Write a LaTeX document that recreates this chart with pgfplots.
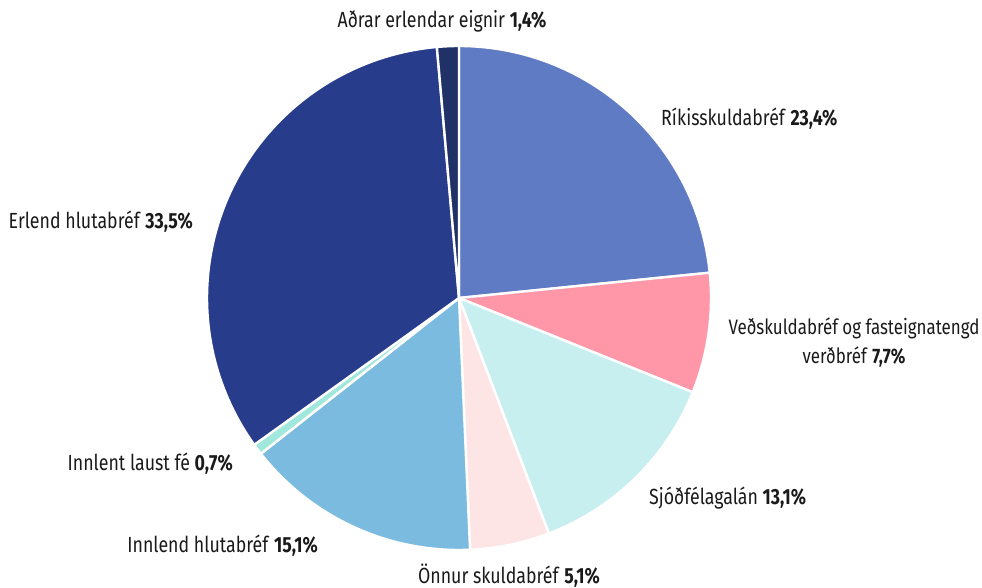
\documentclass[border=0pt]{standalone}
\usepackage{fontspec}
\setmainfont{Fira Sans}[FakeStretch=0.81]
\usepackage{pgfplots}
\pgfplotsset{compat=1.18}
\definecolor{cA}{HTML}{5F7BC4}
\definecolor{cB}{HTML}{FF97A8}
\definecolor{cC}{HTML}{C8EFF0}
\definecolor{cD}{HTML}{FDE5E6}
\definecolor{cE}{HTML}{7BBBE0}
\definecolor{cF}{HTML}{A0E8DC}
\definecolor{cG}{HTML}{283C8C}
\definecolor{cH}{HTML}{1F3166}
\definecolor{txt}{HTML}{1A1A1A}
\tikzset{lbl/.style={font=\fontsize{22}{30}\selectfont, text=txt, inner sep=0pt}}
% slice: start percent, end percent, colour
\newcommand{\slice}[3]{%
  \addplot[fill=#3, draw=white, line width=2.4bp, line join=round, variable=t,
    samples at={-1,0,1,...,90,91}]
    ({(t<0||t>90) ? 459 : 459+252*cos(90-3.6*(#1+(#2-#1)*t/90))},
     {(t<0||t>90) ? 290 : 290+252*sin(90-3.6*(#1+(#2-#1)*t/90))});%
}
\begin{document}
\begin{tikzpicture}
\begin{axis}[width=982bp, height=588bp, scale only axis,
  xmin=0, xmax=982, ymin=0, ymax=588, hide axis, clip=false]
\slice{0}{23.4}{cA}
\slice{23.4}{31.1}{cB}
\slice{31.1}{44.2}{cC}
\slice{44.2}{49.3}{cD}
\slice{49.3}{64.4}{cE}
\slice{64.4}{65.1}{cF}
\slice{65.1}{98.6}{cG}
\slice{98.6}{100}{cH}
\node[lbl, anchor=base] at (axis cs:442,560) {Aðrar erlendar eignir \textbf{1,4\%}};
\node[lbl, anchor=base west] at (axis cs:661,462) {Ríkisskuldabréf \textbf{23,4\%}};
\node[lbl, font=\fontsize{21}{30}\selectfont, anchor=base, align=center] at (axis cs:854,224) {Veðskuldabréf og fasteignatengd\\verðbréf \textbf{7,7\%}};
\node[lbl, anchor=base west] at (axis cs:649,83) {Sjóðfélagalán \textbf{13,1\%}};
\node[lbl, anchor=base] at (axis cs:509,5) {Önnur skuldabréf \textbf{5,1\%}};
\node[lbl, anchor=base east] at (axis cs:318,35) {Innlend hlutabréf \textbf{15,1\%}};
\node[lbl, anchor=base east] at (axis cs:233,117) {Innlent laust fé \textbf{0,7\%}};
\node[lbl, anchor=base east] at (axis cs:193,359) {Erlend hlutabréf \textbf{33,5\%}};
\end{axis}
\pgfresetboundingbox
\path (current axis.south west) rectangle (current axis.north east);
\end{tikzpicture}
\end{document}
